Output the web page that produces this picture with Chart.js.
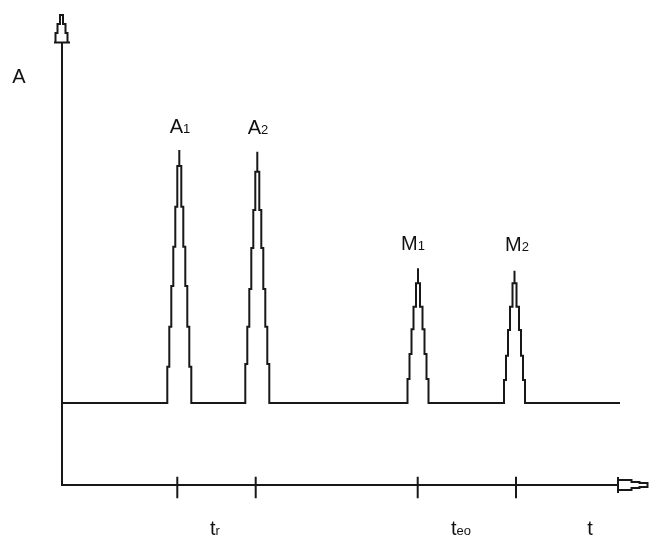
<!DOCTYPE html>
<html>
<head>
<meta charset="utf-8">
<script src="https://cdn.jsdelivr.net/npm/chart.js@4/dist/chart.umd.min.js"></script>
<style>
  html, body { margin: 0; padding: 0; background: #fff; }
  #wrap { width: 649px; height: 542px; }
</style>
</head>
<body>
<div id="wrap"><canvas id="chromChart" width="649" height="542"></canvas></div>
<script>
// time axis runs 0..58.6, signal axis 0..47.1 (arbitrary units)
const baselineLevel = 8.2;
const baselineEnd = 55.8;

const peakNames = ['A', 'A', 'M', 'M'];
const peakSubs = ['1', '2', '1', '2'];
const peakCenters = [11.73, 19.53, 35.6, 45.25];
const peakApex = [33.5, 33.33, 21.67, 21.43];
const peakSteps = [
  [11.83, 15.83, 19.9, 23.83, 27.83, 31.9],
  [12.1, 15.83, 19.6, 23.7, 27.5, 31.33],
  [10.6, 13.1, 15.57, 17.83, 20.17],
  [10.5, 12.93, 15.5, 17.83, 20.17]
];
const peakHalfWidths = [
  [1.2, 1.0, 0.8, 0.6, 0.4, 0.2],
  [1.2, 1.0, 0.8, 0.6, 0.4, 0.2],
  [1.05, 0.85, 0.65, 0.45, 0.2],
  [1.05, 0.85, 0.65, 0.45, 0.2]
];
const peakLabelX = [11.8, 19.6, 35.1, 45.5];
const peakLabelY = [35.2, 35.1, 23.5, 23.4];

// marks on the time axis and their labels
const tickTimes = [11.53, 19.37, 35.57, 45.4];
const tickTop = 0.83;
const tickBottom = -1.33;
const timeLabels = ['t', 't', 't'];
const timeSubs = ['r', 'eo', ''];
const timeLabelX = [15.3, 39.9, 52.8];
const timeLabelY = -4.95;

// axis ends and open arrowheads
const yAxisTop = 44.25;
const xAxisEnd = 55.6;
const yArrowX = [-0.8, -0.65, -0.65, -0.45, -0.45, -0.2, -0.2, 0.1, 0.1, 0.35, 0.35, 0.55, 0.55, 0.8, -0.8];
const yArrowY = [44.25, 44.25, 45.2, 45.2, 46.1, 46.1, 47.0, 47.0, 46.1, 46.1, 45.2, 45.2, 44.25, 44.25, 44.25];
const xArrowX = [55.6, 55.6, 55.6, 56.95, 56.95, 57.75, 57.75, 58.55, 58.55, 57.75, 57.75, 56.95, 56.95, 55.6];
const xArrowY = [0.8, -0.8, -0.5, -0.5, -0.3, -0.3, -0.2, -0.2, 0.2, 0.2, 0.3, 0.3, 0.5, 0.5];

const yAxisLabel = 'A';
const yAxisLabelX = -4.3;
const yAxisLabelY = 40.2;

// build the stepped chromatogram trace
const trace = [{x: 0, y: baselineLevel}];
peakCenters.forEach((c, i) => {
  const s = peakSteps[i];
  const w = peakHalfWidths[i];
  const n = s.length;
  trace.push({x: c - w[0], y: baselineLevel});
  for (let k = 0; k < n; k++) {
    trace.push({x: c - w[k], y: s[k]});
    if (k < n - 1) trace.push({x: c - w[k + 1], y: s[k]});
  }
  trace.push({x: c, y: s[n - 1]});
  trace.push({x: c, y: peakApex[i]});
  trace.push({x: c, y: s[n - 1]});
  for (let k = n - 1; k >= 0; k--) {
    trace.push({x: c + w[k], y: s[k]});
    trace.push({x: c + w[k], y: k > 0 ? s[k - 1] : baselineLevel});
    if (k > 0) trace.push({x: c + w[k - 1], y: s[k - 1]});
  }
});
trace.push({x: baselineEnd, y: baselineLevel});

const ticks = [];
tickTimes.forEach(t => {
  ticks.push({x: t, y: tickTop}, {x: t, y: tickBottom}, {x: t, y: null});
});

const lineColor = '#181818';
function lineSet(data) {
  return {
    data: data,
    borderColor: lineColor,
    borderWidth: 2,
    pointRadius: 0,
    fill: false,
    tension: 0,
    spanGaps: false,
    clip: false
  };
}

const mainFont = '20px "Liberation Sans", Arial, sans-serif';
const subFont = '13px "Liberation Sans", Arial, sans-serif';

function drawLabel(ctx, main, sub, cx, baseY) {
  ctx.font = mainFont;
  const mw = ctx.measureText(main).width;
  ctx.font = subFont;
  const sw = sub ? ctx.measureText(sub).width : 0;
  const x0 = cx - (mw + sw) / 2;
  ctx.font = mainFont;
  ctx.fillText(main, x0, baseY);
  if (sub) {
    ctx.font = subFont;
    ctx.fillText(sub, x0 + mw, baseY);
  }
}

const labelPlugin = {
  id: 'labels',
  afterDatasetsDraw(chart) {
    const ctx = chart.ctx;
    const xs = chart.scales.x;
    const ys = chart.scales.y;
    ctx.save();
    ctx.fillStyle = '#111';
    ctx.textBaseline = 'alphabetic';
    ctx.textAlign = 'left';
    peakNames.forEach((n, i) => {
      drawLabel(ctx, n, peakSubs[i], xs.getPixelForValue(peakLabelX[i]), ys.getPixelForValue(peakLabelY[i]));
    });
    timeLabels.forEach((n, i) => {
      drawLabel(ctx, n, timeSubs[i], xs.getPixelForValue(timeLabelX[i]), ys.getPixelForValue(timeLabelY));
    });
    drawLabel(ctx, yAxisLabel, '', xs.getPixelForValue(yAxisLabelX), ys.getPixelForValue(yAxisLabelY));
    ctx.restore();
  }
};

new Chart(document.getElementById('chromChart'), {
  type: 'line',
  data: {
    datasets: [
      lineSet(trace),
      lineSet([{x: 0, y: yAxisTop}, {x: 0, y: 0}, {x: xAxisEnd, y: 0}]),
      lineSet(ticks),
      lineSet(yArrowX.map((x, i) => ({x: x, y: yArrowY[i]}))),
      lineSet(xArrowX.map((x, i) => ({x: x, y: xArrowY[i]})))
    ]
  },
  options: {
    responsive: false,
    animation: false,
    layout: { padding: { left: 62, right: 1, top: 14, bottom: 57 } },
    plugins: {
      legend: { display: false },
      tooltip: { enabled: false }
    },
    scales: {
      x: { type: 'linear', min: 0, max: 58.6, display: false },
      y: { type: 'linear', min: 0, max: 47.1, display: false }
    }
  },
  plugins: [labelPlugin]
});
</script>
</body>
</html>
